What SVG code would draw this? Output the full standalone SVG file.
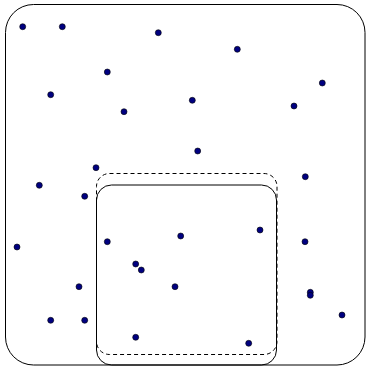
<svg xmlns="http://www.w3.org/2000/svg" width="366" height="366" viewBox="0 0 366 366">
<style>
.frame{fill:none;stroke:#000;stroke-width:1}
.dash{fill:none;stroke:#000;stroke-width:1;stroke-dasharray:4,3}
.pt{fill:#000080;stroke:#000;stroke-width:0.6}
</style>
<rect width="366" height="366" fill="#fff"/>
<g id="regions">
<rect id="outer" class="frame" x="5.5" y="4.5" width="359.5" height="360.5" rx="28" ry="28"/>
<rect id="dashed" class="dash" x="96.5" y="173.5" width="180.5" height="181" rx="13" ry="13"/>
<rect id="inner" class="frame" x="96.5" y="185" width="180" height="180" rx="15" ry="15"/>
</g>
<g id="points">
<circle id="p1" class="pt" cx="22.7" cy="26.7" r="3"/>
<circle id="p2" class="pt" cx="62.3" cy="26.7" r="3"/>
<circle id="p3" class="pt" cx="158.3" cy="32.7" r="3"/>
<circle id="p4" class="pt" cx="107.3" cy="72" r="3"/>
<circle id="p5" class="pt" cx="50.7" cy="94.7" r="3"/>
<circle id="p6" class="pt" cx="124" cy="111.7" r="3"/>
<circle id="p7" class="pt" cx="96" cy="167.7" r="3"/>
<circle id="p8" class="pt" cx="237.3" cy="49.3" r="3"/>
<circle id="p9" class="pt" cx="322.3" cy="83" r="3"/>
<circle id="p10" class="pt" cx="192.3" cy="100.3" r="3"/>
<circle id="p11" class="pt" cx="294" cy="106" r="3"/>
<circle id="p12" class="pt" cx="197.7" cy="151" r="3"/>
<circle id="p13" class="pt" cx="305.3" cy="176.7" r="3"/>
<circle id="p14" class="pt" cx="39.3" cy="185.3" r="3"/>
<circle id="p15" class="pt" cx="84.7" cy="196.3" r="3"/>
<circle id="p16" class="pt" cx="17" cy="247" r="3"/>
<circle id="p17" class="pt" cx="107.3" cy="241.7" r="3"/>
<circle id="p18" class="pt" cx="180.7" cy="236" r="3"/>
<circle id="p19" class="pt" cx="135.7" cy="264" r="3"/>
<circle id="p20" class="pt" cx="141.3" cy="270" r="3"/>
<circle id="p21" class="pt" cx="79" cy="286.7" r="3"/>
<circle id="p22" class="pt" cx="175" cy="286.7" r="3"/>
<circle id="p23" class="pt" cx="50.7" cy="320.3" r="3"/>
<circle id="p24" class="pt" cx="84.7" cy="320.3" r="3"/>
<circle id="p25" class="pt" cx="135.7" cy="337.3" r="3"/>
<circle id="p26" class="pt" cx="260" cy="230" r="3"/>
<circle id="p27" class="pt" cx="305" cy="241.7" r="3"/>
<circle id="p28" class="pt" cx="310.3" cy="292.3" r="3"/>
<circle id="p29" class="pt" cx="310.3" cy="295.3" r="3"/>
<circle id="p30" class="pt" cx="342" cy="315" r="3"/>
<circle id="p31" class="pt" cx="248.7" cy="343.3" r="3"/>
</g>
</svg>
